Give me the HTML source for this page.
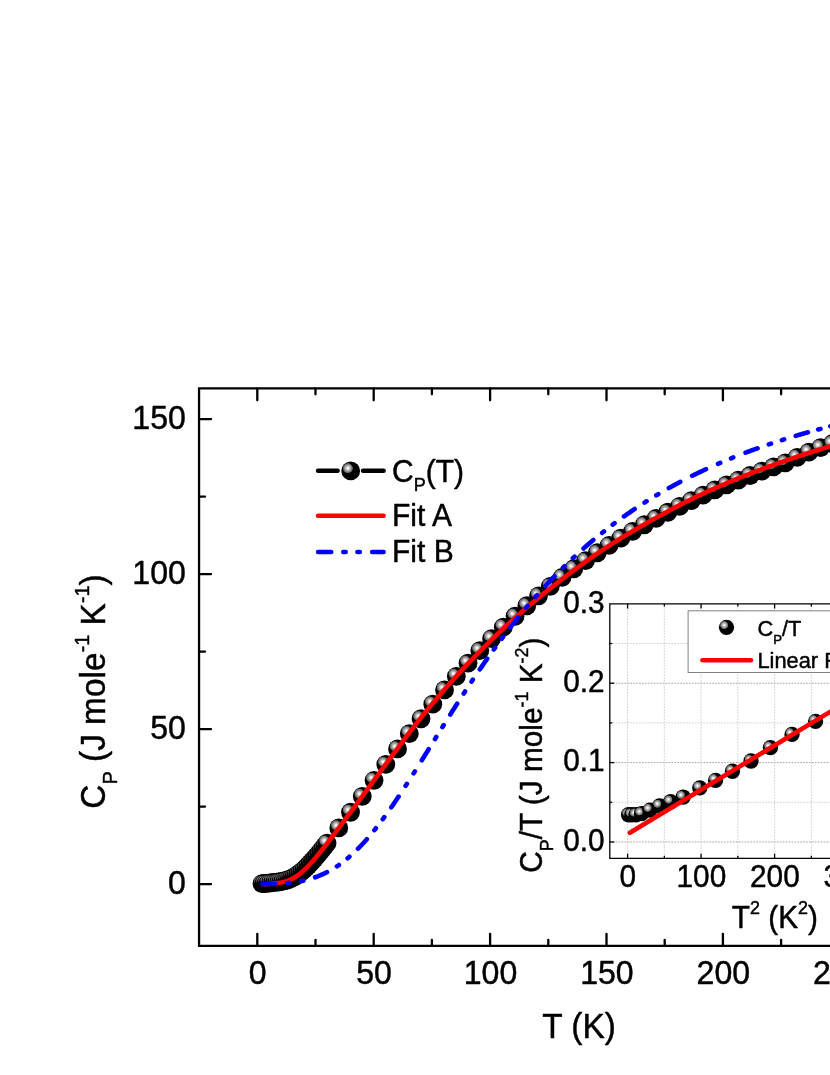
<!DOCTYPE html>
<html><head><meta charset="utf-8"><title>Cp(T)</title>
<style>html,body{margin:0;padding:0;background:#fff;}body{width:830px;height:1075px;overflow:hidden;}svg{display:block;will-change:transform;}text{font-family:"Liberation Sans",sans-serif;fill:#000;stroke:#000;stroke-width:0.45px;stroke-linejoin:round;}</style></head><body>
<svg width="830" height="1075" viewBox="0 0 830 1075">
<defs>
<radialGradient id="sph" cx="0.35" cy="0.355" r="0.275" fx="0.35" fy="0.355"><stop offset="0" stop-color="#fff"/><stop offset="0.1" stop-color="#fff"/><stop offset="0.45" stop-color="#b4b4b4"/><stop offset="0.8" stop-color="#747474"/><stop offset="0.94" stop-color="#444"/><stop offset="1" stop-color="#000"/></radialGradient>
<circle id="S" r="9.4" fill="url(#sph)"/>
<circle id="s" r="7.65" fill="url(#sph)"/>
</defs>
<rect width="830" height="1075" fill="#fff"/>
<g id="data">
<use href="#S" x="261.96" y="883.68"/>
<use href="#S" x="264.05" y="883.48"/>
<use href="#S" x="266.15" y="883.28"/>
<use href="#S" x="268.25" y="883.08"/>
<use href="#S" x="270.35" y="882.86"/>
<use href="#S" x="272.45" y="882.64"/>
<use href="#S" x="274.55" y="882.40"/>
<use href="#S" x="276.65" y="882.14"/>
<use href="#S" x="278.75" y="881.86"/>
<use href="#S" x="280.85" y="881.53"/>
<use href="#S" x="282.95" y="881.13"/>
<use href="#S" x="285.04" y="880.65"/>
<use href="#S" x="287.14" y="880.04"/>
<use href="#S" x="289.24" y="879.30"/>
<use href="#S" x="291.34" y="878.41"/>
<use href="#S" x="293.44" y="877.35"/>
<use href="#S" x="295.54" y="876.12"/>
<use href="#S" x="297.64" y="874.72"/>
<use href="#S" x="299.74" y="873.15"/>
<use href="#S" x="301.84" y="871.44"/>
<use href="#S" x="303.94" y="869.58"/>
<use href="#S" x="306.03" y="867.59"/>
<use href="#S" x="308.13" y="865.48"/>
<use href="#S" x="310.23" y="863.26"/>
<use href="#S" x="312.33" y="860.96"/>
<use href="#S" x="314.43" y="858.58"/>
<use href="#S" x="316.53" y="856.13"/>
<use href="#S" x="318.63" y="853.62"/>
<use href="#S" x="320.73" y="851.07"/>
<use href="#S" x="322.83" y="848.47"/>
<use href="#S" x="324.92" y="845.84"/>
<use href="#S" x="327.02" y="843.18"/>
<use href="#S" x="338.78" y="827.90"/>
<use href="#S" x="350.53" y="812.25"/>
<use href="#S" x="362.28" y="796.38"/>
<use href="#S" x="374.04" y="780.36"/>
<use href="#S" x="385.79" y="764.47"/>
<use href="#S" x="397.54" y="748.90"/>
<use href="#S" x="409.29" y="733.66"/>
<use href="#S" x="421.04" y="718.75"/>
<use href="#S" x="432.79" y="704.13"/>
<use href="#S" x="444.55" y="689.93"/>
<use href="#S" x="456.30" y="676.28"/>
<use href="#S" x="468.05" y="663.20"/>
<use href="#S" x="479.80" y="650.67"/>
<use href="#S" x="491.55" y="638.69"/>
<use href="#S" x="503.30" y="627.22"/>
<use href="#S" x="515.06" y="616.24"/>
<use href="#S" x="526.81" y="605.77"/>
<use href="#S" x="538.56" y="595.80"/>
<use href="#S" x="550.31" y="586.34"/>
<use href="#S" x="562.06" y="577.34"/>
<use href="#S" x="573.81" y="568.76"/>
<use href="#S" x="585.57" y="560.57"/>
<use href="#S" x="597.32" y="552.76"/>
<use href="#S" x="609.07" y="545.29"/>
<use href="#S" x="620.82" y="538.16"/>
<use href="#S" x="632.57" y="531.33"/>
<use href="#S" x="644.33" y="524.75"/>
<use href="#S" x="656.08" y="518.40"/>
<use href="#S" x="667.83" y="512.27"/>
<use href="#S" x="679.58" y="506.36"/>
<use href="#S" x="691.33" y="500.67"/>
<use href="#S" x="703.08" y="495.21"/>
<use href="#S" x="714.84" y="489.97"/>
<use href="#S" x="726.59" y="484.95"/>
<use href="#S" x="738.34" y="480.10"/>
<use href="#S" x="750.09" y="475.50"/>
<use href="#S" x="761.84" y="471.15"/>
<use href="#S" x="773.59" y="466.96"/>
<use href="#S" x="785.35" y="462.84"/>
<use href="#S" x="797.10" y="457.34"/>
<use href="#S" x="808.85" y="452.11"/>
<use href="#S" x="820.60" y="447.57"/>
<use href="#S" x="832.35" y="443.71"/>
<use href="#S" x="844.10" y="440.18"/>
<use href="#S" x="855.86" y="436.78"/>
</g>
<polyline points="264.75,884.41 267.08,884.17 269.41,883.93 271.73,883.68 274.06,883.41 276.39,883.12 278.72,882.80 281.05,882.42 283.37,881.95 285.70,881.37 288.03,880.63 290.36,879.71 292.69,878.60 295.01,877.27 297.34,875.73 299.67,873.99 302.00,872.06 304.33,869.95 306.65,867.68 308.98,865.27 311.31,862.75 313.64,860.11 315.97,857.39 318.29,854.59 320.62,851.72 322.95,848.79 325.28,845.82 327.61,842.81 329.93,839.76 332.26,836.70 334.59,833.61 336.92,830.51 339.25,827.40 341.57,824.28 343.90,821.16 346.23,818.03 348.56,814.91 350.89,811.78 353.21,808.65 355.54,805.51 357.87,802.36 360.20,799.21 362.53,796.05 364.85,792.88 367.18,789.71 369.51,786.54 371.84,783.36 374.17,780.18 376.49,777.00 378.82,773.82 381.15,770.65 383.48,767.47 385.81,764.30 388.13,761.13 390.46,757.97 392.79,754.81 395.12,751.67 397.45,748.53 399.77,745.40 402.10,742.28 404.43,739.18 406.76,736.09 409.09,733.01 411.41,729.95 413.74,726.91 416.07,723.91 418.40,720.94 420.73,718.00 423.05,715.09 425.38,712.21 427.71,709.36 430.04,706.53 432.37,703.73 434.69,700.96 437.02,698.21 439.35,695.49 441.68,692.78 444.01,690.10 446.33,687.43 448.66,684.79 450.99,682.16 453.32,679.54 455.65,676.95 457.97,674.39 460.30,671.85 462.63,669.34 464.96,666.85 467.29,664.39 469.61,661.94 471.94,659.52 474.27,657.12 476.60,654.74 478.93,652.38 481.25,650.03 483.58,647.70 485.91,645.38 488.24,643.08 490.57,640.78 492.89,638.51 495.22,636.26 497.55,634.02 499.88,631.81 502.21,629.62 504.53,627.45 506.86,625.30 509.19,623.17 511.52,621.06 513.85,618.97 516.17,616.89 518.50,614.84 520.83,612.80 523.16,610.78 525.49,608.78 527.81,606.79 530.14,604.83 532.47,602.88 534.80,600.94 537.13,599.02 539.45,597.12 541.78,595.23 544.11,593.36 546.44,591.50 548.77,589.66 551.09,587.82 553.42,585.99 555.75,584.17 558.08,582.36 560.41,580.55 562.73,578.76 565.06,576.97 567.39,575.19 569.72,573.43 572.05,571.68 574.37,569.93 576.70,568.20 579.03,566.49 581.36,564.79 583.69,563.10 586.01,561.43 588.34,559.77 590.67,558.13 593.00,556.51 595.33,554.90 597.65,553.32 599.98,551.75 602.31,550.20 604.64,548.66 606.97,547.14 609.29,545.63 611.62,544.14 613.95,542.66 616.28,541.19 618.61,539.74 620.93,538.30 623.26,536.87 625.59,535.45 627.92,534.04 630.25,532.65 632.57,531.27 634.90,529.89 637.23,528.53 639.56,527.18 641.89,525.84 644.21,524.50 646.54,523.18 648.87,521.87 651.20,520.56 653.53,519.27 655.85,517.98 658.18,516.70 660.51,515.42 662.84,514.15 665.17,512.88 667.49,511.61 669.82,510.35 672.15,509.09 674.48,507.84 676.81,506.60 679.13,505.37 681.46,504.15 683.79,502.95 686.12,501.77 688.45,500.60 690.77,499.46 693.10,498.33 695.43,497.21 697.76,496.10 700.09,495.00 702.41,493.91 704.74,492.83 707.07,491.76 709.40,490.70 711.73,489.65 714.05,488.60 716.38,487.57 718.71,486.54 721.04,485.53 723.37,484.52 725.69,483.52 728.02,482.54 730.35,481.56 732.68,480.59 735.01,479.63 737.33,478.67 739.66,477.73 741.99,476.79 744.32,475.87 746.65,474.95 748.97,474.04 751.30,473.14 753.63,472.25 755.96,471.36 758.29,470.48 760.61,469.61 762.94,468.74 765.27,467.88 767.60,467.03 769.93,466.18 772.25,465.35 774.58,464.51 776.91,463.69 779.24,462.86 781.57,462.05 783.89,461.24 786.22,460.44 788.55,459.64 790.88,458.85 793.21,458.06 795.53,457.28 797.86,456.51 800.19,455.74 802.52,454.98 804.85,454.22 807.17,453.46 809.50,452.72 811.83,451.97 814.16,451.23 816.49,450.50 818.81,449.77 821.14,449.05 823.47,448.33 825.80,447.62 828.13,446.91 830.45,446.20 832.78,445.50 835.11,444.80 837.44,444.11 839.77,443.42 842.09,442.74 844.42,442.06 846.75,441.38 849.08,440.71 851.41,440.05 853.73,439.39 856.06,438.73 858.39,438.07 860.72,437.42 863.05,436.78 865.37,436.14" fill="none" stroke="#ff0000" stroke-width="4.6" stroke-linecap="round" stroke-linejoin="round"/>
<polyline points="262.40,884.10 263.56,884.09 264.73,884.09 265.89,884.08 267.05,884.07 268.22,884.05 269.38,884.04 270.55,884.02 271.71,883.99 272.87,883.97 274.04,883.93 275.20,883.90 276.37,883.86 277.53,883.81 278.69,883.75 279.86,883.69 281.02,883.63 282.19,883.56 283.35,883.48 284.51,883.39 285.68,883.29 286.84,883.19 288.01,883.08 289.17,882.96 290.33,882.83 291.50,882.69 292.66,882.54 293.83,882.38 294.99,882.21 296.15,882.03 297.32,881.84 298.48,881.63 299.65,881.42 300.81,881.19 301.97,880.95 303.14,880.70 304.30,880.43 305.47,880.15 306.63,879.86 307.79,879.55 308.96,879.23 310.12,878.89 311.29,878.54 312.45,878.17 313.61,877.79 314.78,877.39 315.94,876.97 317.11,876.54 318.27,876.09 319.43,875.62 320.60,875.14 321.76,874.64 322.93,874.12 324.09,873.58 325.25,873.02 326.42,872.44 327.58,871.84 328.75,871.22 329.91,870.59 331.07,869.93 332.24,869.25 333.40,868.55 334.57,867.83 335.73,867.09 336.89,866.33 338.06,865.55 339.22,864.74 340.39,863.91 341.55,863.07 342.71,862.20 343.88,861.30 345.04,860.39 346.21,859.45 347.37,858.49 348.53,857.51 349.70,856.51 350.86,855.48 352.03,854.43 353.19,853.36 354.35,852.27 355.52,851.16 356.68,850.02 357.85,848.86 359.01,847.68 360.17,846.48 361.34,845.26 362.50,844.02 363.67,842.75 364.83,841.47 365.99,840.16 367.16,838.83 368.32,837.49 369.49,836.12 370.65,834.74 371.81,833.34 372.98,831.91 374.14,830.47 375.31,829.01 376.47,827.54 377.63,826.04 378.80,824.53 379.96,823.00 381.13,821.46 382.29,819.90 383.45,818.32 384.62,816.73 385.78,815.12 386.95,813.50 388.11,811.87 389.27,810.22 390.44,808.56 391.60,806.88 392.77,805.20 393.93,803.50 395.09,801.79 396.26,800.06 397.42,798.33 398.59,796.59 399.75,794.84 400.91,793.07 402.08,791.30 403.24,789.52 404.41,787.73 405.57,785.94 406.73,784.13 407.90,782.32 409.06,780.50 410.23,778.68 411.39,776.85 412.55,775.01 413.72,773.17 414.88,771.33 416.05,769.48 417.21,767.62 418.37,765.76 419.54,763.90 420.70,762.04 421.87,760.17 423.03,758.30 424.19,756.43 425.36,754.55 426.52,752.68 427.69,750.80 428.85,748.92 430.01,747.04 431.18,745.17 432.34,743.29 433.51,741.41 434.67,739.53 435.83,737.65 437.00,735.78 438.16,733.90 439.33,732.03 440.49,730.16 441.65,728.29 442.82,726.42 443.98,724.56 445.15,722.70 446.31,720.84 447.47,718.99 448.64,717.13 449.80,715.29 450.97,713.44 452.13,711.60 453.29,709.77 454.46,707.93 455.62,706.11 456.79,704.28 457.95,702.47 459.11,700.65 460.28,698.85 461.44,697.04 462.61,695.25 463.77,693.46 464.93,691.67 466.10,689.89 467.26,688.12 468.43,686.35 469.59,684.59 470.75,682.83 471.92,681.08 473.08,679.34 474.25,677.60 475.41,675.87 476.57,674.15 477.74,672.44 478.90,670.73 480.07,669.03 481.23,667.33 482.39,665.64 483.56,663.96 484.72,662.29 485.89,660.62 487.05,658.97 488.21,657.32 489.38,655.67 490.54,654.04 491.71,652.41 492.87,650.79 494.03,649.18 495.20,647.57 496.36,645.97 497.53,644.38 498.69,642.80 499.85,641.23 501.02,639.66 502.18,638.10 503.35,636.55 504.51,635.01 505.67,633.48 506.84,631.95 508.00,630.43 509.17,628.92 510.33,627.42 511.49,625.93 512.66,624.44 513.82,622.96 514.99,621.49 516.15,620.03 517.31,618.58 518.48,617.13 519.64,615.69 520.81,614.26 521.97,612.84 523.13,611.43 524.30,610.02 525.46,608.62 526.63,607.23 527.79,605.85 528.95,604.48 530.12,603.11 531.28,601.75 532.45,600.40 533.61,599.06 534.77,597.72 535.94,596.40 537.10,595.08 538.27,593.77 539.43,592.46 540.59,591.17 541.76,589.88 542.92,588.60 544.09,587.32 545.25,586.06 546.41,584.80 547.58,583.55 548.74,582.31 549.91,581.07 551.07,579.85 552.23,578.63 553.40,577.41 554.56,576.21 555.73,575.01 556.89,573.82 558.05,572.64 559.22,571.46 560.38,570.29 561.55,569.13 562.71,567.97 563.87,566.83 565.04,565.69 566.20,564.55 567.37,563.43 568.53,562.31 569.69,561.20 570.86,560.09 572.02,558.99 573.19,557.90 574.35,556.82 575.51,555.74 576.68,554.67 577.84,553.60 579.01,552.54 580.17,551.49 581.33,550.45 582.50,549.41 583.66,548.38 584.83,547.35 585.99,546.33 587.15,545.32 588.32,544.32 589.48,543.32 590.65,542.32 591.81,541.34 592.97,540.36 594.14,539.38 595.30,538.41 596.47,537.45 597.63,536.49 598.79,535.54 599.96,534.60 601.12,533.66 602.29,532.73 603.45,531.80 604.61,530.88 605.78,529.96 606.94,529.05 608.11,528.15 609.27,527.25 610.43,526.36 611.60,525.47 612.76,524.59 613.93,523.72 615.09,522.85 616.25,521.98 617.42,521.12 618.58,520.27 619.75,519.42 620.91,518.58 622.07,517.74 623.24,516.91 624.40,516.08 625.57,515.26 626.73,514.44 627.89,513.63 629.06,512.83 630.22,512.02 631.39,511.23 632.55,510.44 633.71,509.65 634.88,508.87 636.04,508.09 637.21,507.32 638.37,506.55 639.53,505.79 640.70,505.03 641.86,504.28 643.03,503.53 644.19,502.79 645.35,502.05 646.52,501.31 647.68,500.59 648.85,499.86 650.01,499.14 651.17,498.42 652.34,497.71 653.50,497.00 654.67,496.30 655.83,495.60 656.99,494.91 658.16,494.22 659.32,493.53 660.49,492.85 661.65,492.17 662.81,491.50 663.98,490.83 665.14,490.17 666.31,489.50 667.47,488.85 668.63,488.19 669.80,487.55 670.96,486.90 672.13,486.26 673.29,485.62 674.45,484.99 675.62,484.36 676.78,483.74 677.95,483.11 679.11,482.50 680.27,481.88 680.76,481.62" fill="none" stroke="#0000ff" stroke-width="4.6" stroke-linecap="round" stroke-linejoin="round" stroke-dasharray="12.94 11.94 2.37 11.55 2.37 12.24 12.94 11.47 2.37 11.08 2.37 11.77 12.94 11.87 2.37 11.48 2.37 12.17 12.94 12.84 2.37 12.45 2.37 13.14 12.94 12.04 2.37 11.65 2.37 12.34 12.94 12.17 2.37 11.78 2.37 12.47 12.94 11.34 2.37 10.95 2.37 11.64 12.94 12.44 2.37 12.05 2.37 12.74 12.94 11.87 2.37 11.48 2.37 12.17 12.94 11.34 2.37 10.95 2.37 11.64 12.94 11.84 2.37 11.45 2.37 12.14 12.94 11.94 2.37 11.55 2.37 12.24"/>
<polyline points="692.17,475.81 693.33,475.24 694.50,474.67 695.66,474.10 696.83,473.54 697.99,472.98 699.15,472.42 700.32,471.87 701.48,471.32 702.65,470.77 703.81,470.23 704.97,469.69 706.14,469.15 707.30,468.61 708.47,468.08 709.63,467.55 710.79,467.03 711.96,466.51 713.12,465.99 714.29,465.47 715.45,464.96 716.61,464.45 717.78,463.94 718.94,463.44 720.11,462.94 721.27,462.44 722.43,461.95 723.60,461.46 724.76,460.97 725.93,460.48 727.09,460.00 728.25,459.52 729.42,459.04 730.58,458.56 731.75,458.09 732.91,457.62 734.07,457.15 735.24,456.69 736.40,456.23 737.57,455.77 738.73,455.31 739.89,454.86 741.06,454.41 742.22,453.96 743.39,453.51 744.55,453.07 745.71,452.63 746.88,452.19 748.04,451.75 749.21,451.32 750.37,450.89 751.53,450.46 752.70,450.03 753.86,449.61 755.03,449.19 756.19,448.77 757.35,448.35 758.52,447.94 759.68,447.53 760.85,447.12 762.01,446.71 763.17,446.30 764.34,445.90 765.50,445.50 766.67,445.10 767.83,444.70 768.99,444.31 770.16,443.92 771.32,443.53 772.49,443.14 773.65,442.76 774.81,442.37 775.98,441.99 777.14,441.61 778.31,441.23 779.47,440.86 780.63,440.49 781.80,440.12 782.96,439.75 784.13,439.38 785.29,439.01 786.45,438.65 787.62,438.29 788.78,437.93 789.95,437.57 791.11,437.22 792.27,436.87 793.44,436.51 794.60,436.17 795.77,435.82 796.93,435.47 798.09,435.13 799.26,434.79 800.42,434.45 801.59,434.11 802.75,433.77 803.91,433.44 805.08,433.10 806.24,432.77 807.41,432.44 808.57,432.11 809.73,431.79 810.90,431.46 812.06,431.14 813.23,430.82 814.39,430.50 815.55,430.18 816.72,429.87 817.88,429.55 819.05,429.24 820.21,428.93 821.37,428.62 822.54,428.31 823.70,428.01 824.87,427.70 826.03,427.40 827.19,427.10 828.36,426.80 829.52,426.50 830.69,426.20 831.85,425.91 833.01,425.62 834.18,425.32 835.34,425.03 836.51,424.74 837.67,424.46 838.83,424.17 840.00,423.89 841.16,423.60 842.33,423.32 843.49,423.04 844.65,422.76 845.82,422.48 846.98,422.21 848.15,421.93 849.31,421.66 850.47,421.39 851.64,421.12 852.80,420.85 853.97,420.58 855.13,420.31 856.29,420.05 857.46,419.78 858.62,419.52 859.79,419.26 860.95,419.00 862.11,418.74 863.28,418.48 864.44,418.23 865.61,417.97 866.77,417.72 867.24,417.62" fill="none" stroke="#0000ff" stroke-width="4.6" stroke-linecap="round" stroke-linejoin="round" stroke-dasharray="15.3 13.2 2.4 11.7 2.4 13.2 12.8 11.85 2.35 11.45 2.35 12.1 12.8 10.6 2.35 10.2 2.35 12.1 12.8 11.85 2.35 11.45 2.35 12.1"/>
<g stroke="#000" stroke-width="2.3" fill="none" stroke-linecap="round">
<path d="M840,388.35 H199.05 V945.8 H840" stroke-linejoin="miter" stroke-linecap="butt"/>
<path d="M257.30,945.8 v-12 M257.30,388.35 v12"/>
<path d="M315.50,945.8 v-6 M315.50,388.35 v6"/>
<path d="M373.70,945.8 v-12 M373.70,388.35 v12"/>
<path d="M431.90,945.8 v-6 M431.90,388.35 v6"/>
<path d="M490.10,945.8 v-12 M490.10,388.35 v12"/>
<path d="M548.30,945.8 v-6 M548.30,388.35 v6"/>
<path d="M606.50,945.8 v-12 M606.50,388.35 v12"/>
<path d="M664.70,945.8 v-6 M664.70,388.35 v6"/>
<path d="M722.90,945.8 v-12 M722.90,388.35 v12"/>
<path d="M781.10,945.8 v-6 M781.10,388.35 v6"/>
<path d="M839.30,945.8 v-12 M839.30,388.35 v12"/>
<path d="M897.50,945.8 v-6 M897.50,388.35 v6"/>
<path d="M199.05,884.10 h12"/>
<path d="M199.05,806.60 h6"/>
<path d="M199.05,729.10 h12"/>
<path d="M199.05,651.60 h6"/>
<path d="M199.05,574.10 h12"/>
<path d="M199.05,496.60 h6"/>
<path d="M199.05,419.10 h12"/>
</g>
<g font-size="32.1">
<text transform="translate(257.70,984.3) scale(1,1.026)" text-anchor="middle">0</text>
<text transform="translate(374.10,984.3) scale(1,1.026)" text-anchor="middle">50</text>
<text transform="translate(490.50,984.3) scale(1,1.026)" text-anchor="middle">100</text>
<text transform="translate(606.90,984.3) scale(1,1.026)" text-anchor="middle">150</text>
<text transform="translate(723.30,984.3) scale(1,1.026)" text-anchor="middle">200</text>
<text transform="translate(839.70,984.3) scale(1,1.026)" text-anchor="middle">250</text>
<text transform="translate(185.9,893.60) scale(1,1.026)" text-anchor="end">0</text>
<text transform="translate(185.9,738.60) scale(1,1.026)" text-anchor="end">50</text>
<text transform="translate(185.9,583.60) scale(1,1.026)" text-anchor="end">100</text>
<text transform="translate(185.9,428.60) scale(1,1.026)" text-anchor="end">150</text>
</g>
<text transform="translate(542.3,1037.8) scale(1,1.026)" font-size="33.4">T (K)</text>
<text font-size="33.4" text-anchor="middle" transform="translate(104.6,691.5) rotate(-90) scale(1,1.026)">C<tspan font-size="20" dy="12.10">P</tspan><tspan dy="-12.10"> (J mole</tspan><tspan font-size="20" dy="-15.27">-1</tspan><tspan dy="15.27"> K</tspan><tspan font-size="20" dy="-15.27">-1</tspan><tspan dy="15.27">)</tspan></text>
<g stroke-linecap="round" stroke-width="4.6" fill="none">
<path d="M318.1,470.8 H337.6 M363.1,470.8 H383.6" stroke="#000"/>
<path d="M318.1,515.7 H383.6" stroke="#ff0000"/>
<path d="M318.1,552 H383.6" stroke="#0000ff" stroke-dasharray="13.1 12.1 2.4 11.7 2.4 12.4"/>
</g>
<use href="#S" x="350.7" y="470.9"/>
<g font-size="30">
<text transform="translate(392,481.6) scale(1,1.026)">C<tspan font-size="18" dy="9.32">P</tspan><tspan dy="-9.32">(T)</tspan></text>
<text transform="translate(392,525.6) scale(1,1.026)">Fit A</text>
<text transform="translate(392,562) scale(1,1.026)">Fit B</text>
</g>
<rect x="609.8" y="603.9" width="240" height="254.39999999999998" fill="#fff"/>
<g fill="none" stroke-dasharray="1.7 1.23">
<path d="M627.60,603.9 V858.3" stroke="#c2c2c2" stroke-width="0.75"/>
<path d="M664.35,603.9 V858.3" stroke="#c2c2c2" stroke-width="0.75"/>
<path d="M701.10,603.9 V858.3" stroke="#c2c2c2" stroke-width="0.75"/>
<path d="M737.85,603.9 V858.3" stroke="#c2c2c2" stroke-width="0.75"/>
<path d="M774.60,603.9 V858.3" stroke="#c2c2c2" stroke-width="0.75"/>
<path d="M811.35,603.9 V858.3" stroke="#c2c2c2" stroke-width="0.75"/>
<path d="M848.10,603.9 V858.3" stroke="#c2c2c2" stroke-width="0.75"/>
<path d="M884.85,603.9 V858.3" stroke="#c2c2c2" stroke-width="0.75"/>
<path d="M609.8,842.00 H840" stroke="#a6a6a6" stroke-width="1"/>
<path d="M609.8,802.30 H840" stroke="#c6c6c6" stroke-width="0.8"/>
<path d="M609.8,762.60 H840" stroke="#a6a6a6" stroke-width="1"/>
<path d="M609.8,722.90 H840" stroke="#c6c6c6" stroke-width="0.8"/>
<path d="M609.8,683.20 H840" stroke="#a6a6a6" stroke-width="1"/>
<path d="M609.8,643.50 H840" stroke="#c6c6c6" stroke-width="0.8"/>
</g>
<use href="#s" x="628.54" y="814.76"/>
<use href="#s" x="631.86" y="814.76"/>
<use href="#s" x="636.02" y="814.76"/>
<use href="#s" x="641.56" y="813.65"/>
<use href="#s" x="649.88" y="810.05"/>
<use href="#s" x="659.57" y="805.90"/>
<use href="#s" x="670.66" y="801.74"/>
<use href="#s" x="683.13" y="797.03"/>
<use href="#s" x="699.75" y="787.89"/>
<use href="#s" x="715.54" y="780.40"/>
<use href="#s" x="732.45" y="771.26"/>
<use href="#s" x="751.01" y="761.01"/>
<use href="#s" x="770.41" y="747.71"/>
<use href="#s" x="792.02" y="734.41"/>
<use href="#s" x="815.57" y="721.39"/>
<use href="#s" x="840.77" y="707.45"/>
<path d="M629.9,832.8 L850,699.82" stroke="#ff0000" stroke-width="4.6" stroke-linecap="round" fill="none"/>
<g stroke="#000" stroke-width="1.3" fill="none">
<path d="M840,603.9 H609.8 V858.3 H840"/>
<path d="M627.60,603.9 v4.5 M627.60,858.3 v-4.5"/>
<path d="M664.35,603.9 v2.5 M664.35,858.3 v-2.5"/>
<path d="M701.10,603.9 v4.5 M701.10,858.3 v-4.5"/>
<path d="M737.85,603.9 v2.5 M737.85,858.3 v-2.5"/>
<path d="M774.60,603.9 v4.5 M774.60,858.3 v-4.5"/>
<path d="M811.35,603.9 v2.5 M811.35,858.3 v-2.5"/>
<path d="M848.10,603.9 v4.5 M848.10,858.3 v-4.5"/>
<path d="M884.85,603.9 v2.5 M884.85,858.3 v-2.5"/>
<path d="M609.8,842.00 h4.5"/>
<path d="M609.8,802.30 h2.5"/>
<path d="M609.8,762.60 h4.5"/>
<path d="M609.8,722.90 h2.5"/>
<path d="M609.8,683.20 h4.5"/>
<path d="M609.8,643.50 h2.5"/>
</g>
<rect x="688.1" y="610.8" width="160" height="61.7" fill="#fff" stroke="#808080" stroke-width="1"/>
<use href="#s" x="726.5" y="627.3"/>
<path d="M702.5,660.2 H750.9" stroke="#ff0000" stroke-width="4.6" stroke-linecap="round"/>
<g font-size="21.8" stroke-width="0.3">
<text transform="translate(757.5,636) scale(1,1.026)">C<tspan font-size="13.2" dy="7.97">P</tspan><tspan dy="-7.97">/T</tspan></text>
<text transform="translate(757.5,668) scale(1,1.026)">Linear Fit</text>
</g>
<g font-size="29.8">
<text transform="translate(604.6,850.70) scale(1,1.026)" text-anchor="end">0.0</text>
<text transform="translate(604.6,771.30) scale(1,1.026)" text-anchor="end">0.1</text>
<text transform="translate(604.6,691.90) scale(1,1.026)" text-anchor="end">0.2</text>
<text transform="translate(604.6,612.50) scale(1,1.026)" text-anchor="end">0.3</text>
<text transform="translate(627.90,887.2) scale(1,1.026)" text-anchor="middle">0</text>
<text transform="translate(701.40,887.2) scale(1,1.026)" text-anchor="middle">100</text>
<text transform="translate(774.90,887.2) scale(1,1.026)" text-anchor="middle">200</text>
<text transform="translate(848.40,887.2) scale(1,1.026)" text-anchor="middle">300</text>
<text transform="translate(731.8,928.2) scale(1,1.026)">T<tspan font-size="17.9" dy="-13.74">2</tspan><tspan dy="13.74"> (K</tspan><tspan font-size="17.9" dy="-13.74">2</tspan><tspan dy="13.74">)</tspan></text>
<text text-anchor="middle" transform="translate(541.8,755.2) rotate(-90) scale(1,1.026)">C<tspan font-size="17.9" dy="10.85">P</tspan><tspan dy="-10.85">/T (J mole</tspan><tspan font-size="17.9" dy="-13.74">-1</tspan><tspan dy="13.74"> K</tspan><tspan font-size="17.9" dy="-13.74">-2</tspan><tspan dy="13.74">)</tspan></text>
</g>
</svg></body></html>
